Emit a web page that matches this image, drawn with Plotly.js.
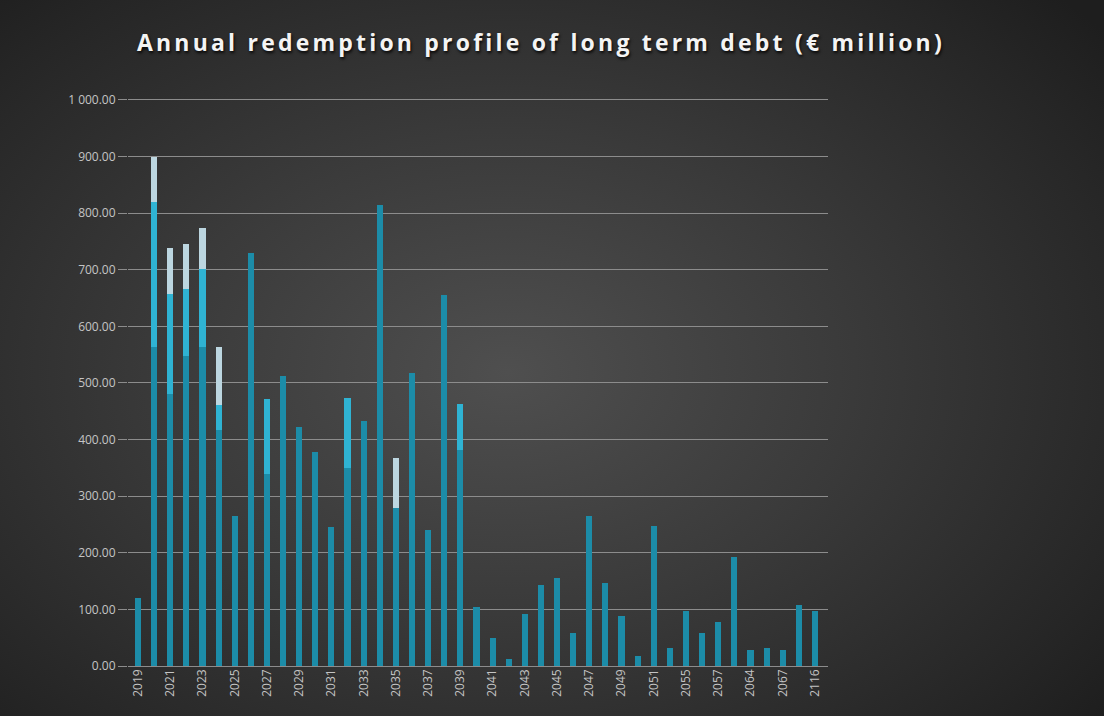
<!DOCTYPE html>
<html>
<head>
<meta charset="utf-8">
<script src="https://cdn.plot.ly/plotly-3.0.1.min.js"></script>
<style>
html, body { margin:0; padding:0; width:1104px; height:716px; overflow:hidden;
  background: radial-gradient(ellipse 70% 75% at 46% 52%, #4f4f4f 0%, #3a3a3a 45%, #262626 85%, #1e1e1e 100%); }
#chart { width:1104px; height:716px; }
.gtitle { letter-spacing: 3.2px; }
</style>
</head>
<body>
<div id="chart"></div>
<script>
// Categories (years)
const years = ["2019","2020","2021","2022","2023","2024","2025","2026","2027","2028",
  "2029","2030","2031","2032","2033","2034","2035","2036","2037","2038",
  "2039","2040","2041","2042","2043","2044","2045","2046","2047","2048",
  "2049","2050","2051","2053","2055","2056","2057","2060","2064","2065",
  "2067","2069","2116"];
// Tick labels shown on the x axis
const shownYears = ["2019","2021","2023","2025","2027","2029","2031","2033","2035","2037",
  "2039","2041","2043","2045","2047","2049","2051","2055","2057","2064","2067","2116"];

// Series (stacked segments, € million)
const baseSeries = [120,564,480,547,563,417,265,730,340,512,
  422,378,245,350,432,815,279,517,240,655,
  382,105,50,12,92,143,155,58,265,147,
  88,18,248,32,98,58,78,193,28,32,
  28,108,98];
const midSeries = [0,256,178,119,139,44,0,0,132,0,
  0,0,0,123,0,0,0,0,0,0,
  81,0,0,0,0,0,0,0,0,0,
  0,0,0,0,0,0,0,0,0,0,
  0,0,0];
const topSeries = [0,80,80,79,71,102,0,0,0,0,
  0,0,0,0,0,0,89,0,0,0,
  0,0,0,0,0,0,0,0,0,0,
  0,0,0,0,0,0,0,0,0,0,
  0,0,0];

// Y tick labels
const yTickVals = [0,100,200,300,400,500,600,700,800,900,1000];
const yTickText = ["0.00","100.00","200.00","300.00","400.00","500.00","600.00","700.00","800.00","900.00","1 000.00"];

const traces = [
  {type:"bar", x:years, y:baseSeries, name:"base",
   marker:{color:"#1c8ca8", line:{width:0}}, hoverinfo:"x+y"},
  {type:"bar", x:years, y:midSeries, name:"mid",
   marker:{color:"#2fb3d3", line:{width:0}}, hoverinfo:"x+y"},
  {type:"bar", x:years, y:topSeries, name:"top",
   marker:{color:"#bcd6e0", line:{width:0}}, hoverinfo:"x+y"}
];

const layout = {
  width:1104, height:716,
  paper_bgcolor:"rgba(0,0,0,0)", plot_bgcolor:"rgba(0,0,0,0)",
  margin:{l:128, r:276, t:98, b:50},
  barmode:"stack", bargap:0.62,
  showlegend:false,
  title:{text:"Annual redemption profile of long term debt (€ million)",
    x:0.49, xanchor:"center", y:0.94, yanchor:"middle",
    font:{family:"Open Sans, sans-serif", size:23, color:"#f4f4f4", weight:700,
      shadow:"1px 2px 3px rgba(0,0,0,0.85)"}},
  xaxis:{type:"category", range:[-0.62, 42.81], tickvals:shownYears, ticktext:shownYears,
    tickangle:-90, showgrid:false, zeroline:false, showline:false, ticks:"",
    tickfont:{family:"Open Sans, sans-serif", size:12, color:"#c4c4c4"}},
  yaxis:{range:[0,1003.5], tickvals:yTickVals, ticktext:yTickText,
    showgrid:true, gridcolor:"#8c8c8c", gridwidth:1, zeroline:true, zerolinecolor:"#8c8c8c",
    showline:false, ticks:"outside", ticklen:9, tickcolor:"#8c8c8c",
    tickfont:{family:"Open Sans, sans-serif", size:12, color:"#c4c4c4"}}
};

Plotly.newPlot("chart", traces, layout, {displayModeBar:false, staticPlot:true});
</script>
</body>
</html>
